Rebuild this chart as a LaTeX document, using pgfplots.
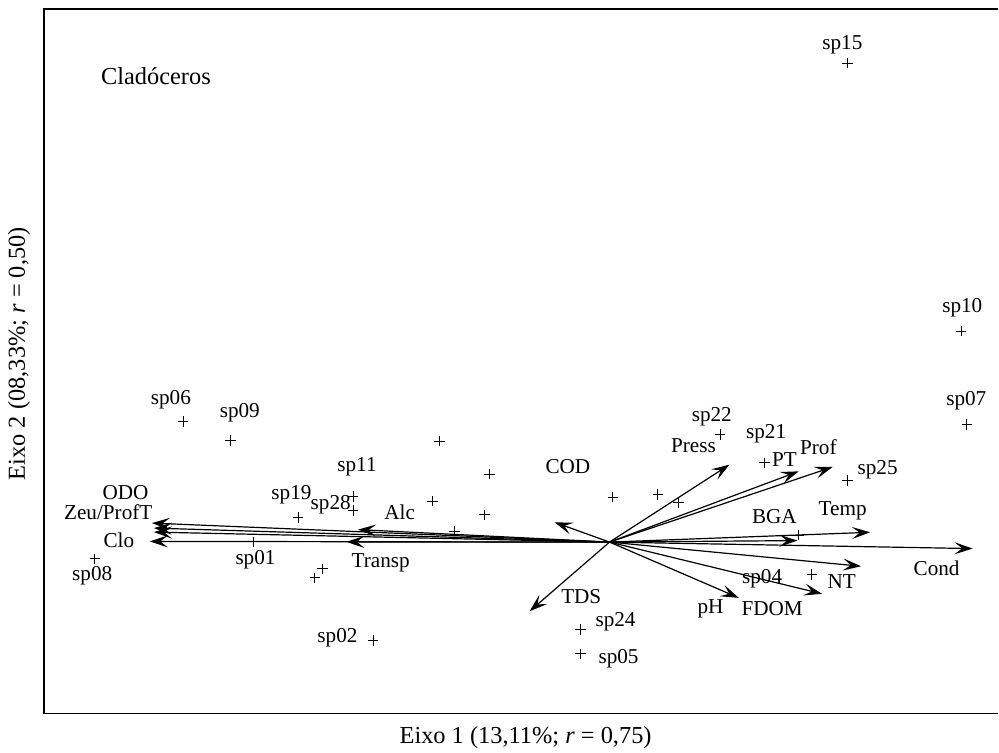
\documentclass[border=0pt]{standalone}
\usepackage{fontspec}
\setmainfont{Liberation Serif}
\usepackage{pgfplots}
\pgfplotsset{compat=1.18}
\usetikzlibrary{arrows.meta}
\pgfplotsset{vec/.style={black, solid, no markers, line width=0.6pt, -{Stealth[length=9pt,width=6pt,inset=3.8pt]}}}
\begin{document}
\begin{tikzpicture}
\begin{axis}[
  scale only axis,
  width=477.5pt, height=352.5pt,
  xmin=44, xmax=999, ymin=9, ymax=714,
  y dir=reverse,
  axis line style={draw=none},
  ticks=none,
  clip=false,
  font=\fontsize{10.6}{12}\selectfont,
]
% bounding box
\path (axis cs:0,0) rectangle (axis cs:999,753);
% frame (left, top, bottom)
\draw[line width=0.75pt] (axis cs:999,9) -- (axis cs:44,9) -- (axis cs:44,714) -- (axis cs:999,714);

% environmental vectors
\addplot[vec] coordinates {(610,542.5) (730,465)};      % Press
\addplot[vec] coordinates {(610,542.5) (799.3,471.7)};  % PT
\addplot[vec] coordinates {(610,542.5) (833.3,467.3)};  % Prof
\addplot[vec] coordinates {(610,542.5) (555,522.7)};    % COD
\addplot[vec] coordinates {(610,542.5) (870.7,532.7)};  % Temp
\addplot[vec] coordinates {(610,542.5) (798,541)};      % BGA
\addplot[vec] coordinates {(610,542.5) (973.3,549)};    % Cond
\addplot[vec] coordinates {(610,542.5) (861.7,566.7)};  % NT
\addplot[vec] coordinates {(610,542.5) (822.7,594.3)};  % FDOM
\addplot[vec] coordinates {(610,542.5) (739.3,598.3)};  % pH
\addplot[vec] coordinates {(610,542.5) (530,611.7)};    % TDS
\addplot[vec] coordinates {(610,542.5) (152,523.5)};    % ODO
\addplot[vec] coordinates {(610,542.5) (154,528.5)};    % Zeu
\addplot[vec] coordinates {(610,542.5) (154,532.5)};    % ProfT
\addplot[vec] coordinates {(610,542.5) (150,541.8)};    % Clo
\addplot[vec] coordinates {(610,542.5) (358.3,530)};    % Alc
\addplot[vec] coordinates {(610,542.5) (346.7,542.3)};  % Transp

% species scores
\addplot[only marks, mark=+, mark size=2.6pt, black, line width=0.5pt] coordinates {
(848.3,63.3) (962,331.5) (967.7,425) (183.3,421.7) (230.7,441)
(440,441.5) (490,474.5) (353.3,496.7) (353.3,510.7) (432.7,501.5)
(485,515.3) (298.3,517.7) (455,531.5) (254,542.3) (95,559.3)
(322.7,569.3) (315,578.3) (373.3,641) (720.7,435) (765,463.3)
(848.3,480.7) (613.3,497.5) (658.3,495) (679,502.7) (799.3,535.7)
(812.3,575) (581,630) (581,654.3)
};

% labels
\begin{scope}[every node/.style={inner sep=0pt, anchor=center}]
\node at (axis cs:843,45) {sp15};
\node at (axis cs:963,307.5) {sp10};
\node at (axis cs:967,401.5) {sp07};
\node at (axis cs:171,400) {sp06};
\node at (axis cs:240,412.7) {sp09};
\node at (axis cs:357.3,467.3) {sp11};
\node at (axis cs:125.7,492.7) {ODO};
\node at (axis cs:108.3,512.3) {Zeu/ProfT};
\node at (axis cs:119,541) {Clo};
\node at (axis cs:291.7,495) {sp19};
\node at (axis cs:331,505) {sp28};
\node at (axis cs:400,512.3) {Alc};
\node at (axis cs:255.7,560) {sp01};
\node at (axis cs:92.3,576) {sp08};
\node at (axis cs:381,563.3) {Transp};
\node at (axis cs:337.7,637.7) {sp02};
\node at (axis cs:712.3,416.7) {sp22};
\node at (axis cs:694,446) {Press};
\node at (axis cs:766.7,434) {sp21};
\node at (axis cs:785,460) {PT};
\node at (axis cs:819,447.7) {Prof};
\node at (axis cs:878.3,470) {sp25};
\node at (axis cs:568.3,467.3) {COD};
\node at (axis cs:775,516.7) {BGA};
\node at (axis cs:843.3,511) {Temp};
\node at (axis cs:937.3,569) {Cond};
\node at (axis cs:842.3,582.3) {NT};
\node at (axis cs:762.7,579) {sp04};
\node at (axis cs:581.7,596.7) {TDS};
\node at (axis cs:711,609) {pH};
\node at (axis cs:772.7,609.3) {FDOM};
\node at (axis cs:616,622.3) {sp24};
\node at (axis cs:619,659.3) {sp05};
\node[font=\fontsize{12.2}{14}\selectfont] at (axis cs:156,76) {Cladóceros};
\node[font=\fontsize{12.2}{14}\selectfont] at (axis cs:526,738) {Eixo 1 (13,11\%; \textit{r} = 0,75)};
\node[font=\fontsize{12.2}{14}\selectfont, rotate=90] at (axis cs:19,354) {Eixo 2 (08,33\%; \textit{r} = 0,50)};
\end{scope}
\end{axis}
\end{tikzpicture}
\end{document}
